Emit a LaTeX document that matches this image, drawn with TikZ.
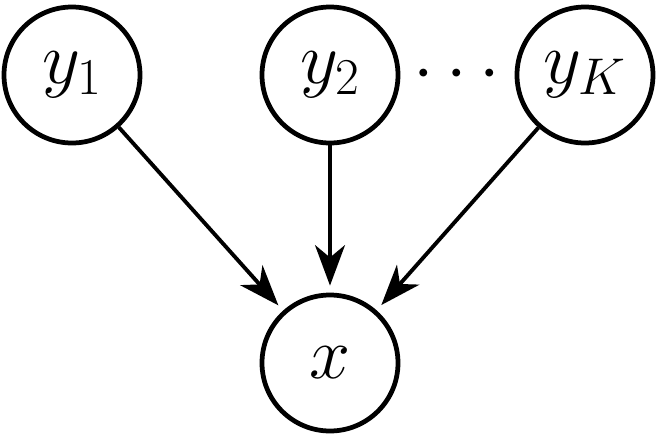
\RequirePackage{fix-cm}
\documentclass[tikz,border=0pt]{standalone}
\usepackage{tikz}
\usetikzlibrary{arrows.meta,positioning}

\begin{document}
\begin{tikzpicture}[font=\fontsize{42}{48}\selectfont,
  var/.style={draw, circle, line width=2.7pt, minimum size=2.72cm, inner sep=0pt},
  edge/.style={-{Stealth[length=23pt, width=17pt, inset=7pt]}, line width=2.2pt, shorten >=4pt}]
  \useasboundingbox (0,0) rectangle (13.12,-8.74);
  \node[var] (y1) at (1.44,-1.5) {$y_1$};
  \node[var, on grid, right=5.16cm of y1] (y2) {$y_2$};
  \node[on grid, right=2.54cm of y2] (dots) {$\cdots$};
  \node[var, on grid, right=5.1cm of y2] (yK) {$y_K$};
  \node[var, on grid, below=5.76cm of y2] (x) {$x$};
  \draw[edge] (y1) -- (x);
  \draw[edge] (y2) -- (x);
  \draw[edge] (yK) -- (x);
\end{tikzpicture}
\end{document}
